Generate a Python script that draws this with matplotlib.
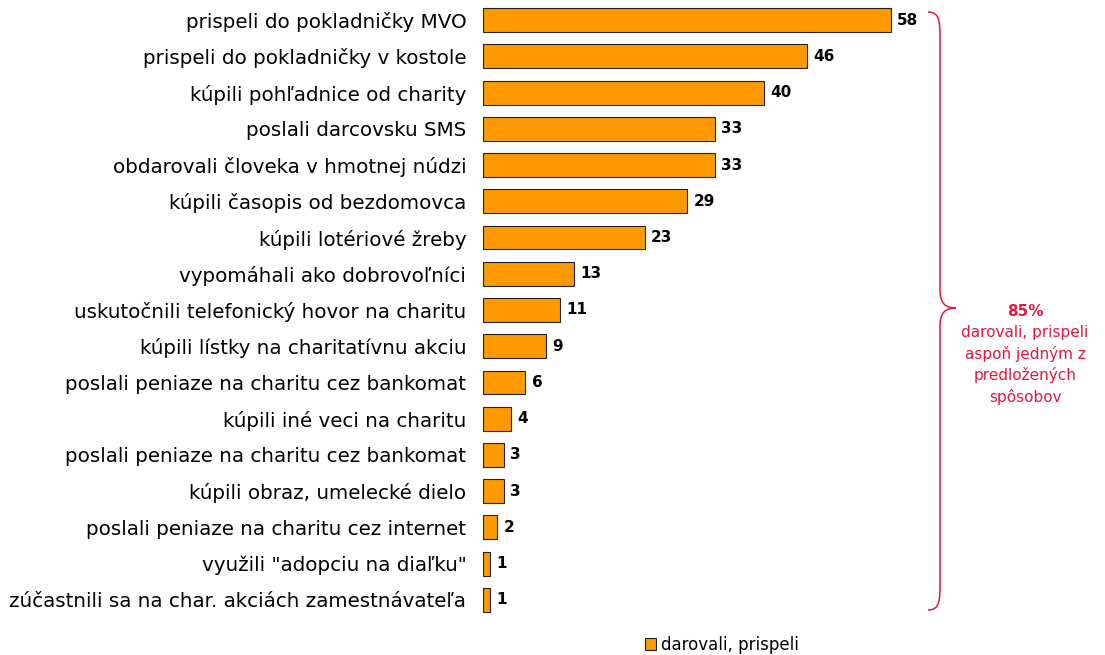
import numpy as np
import matplotlib.pyplot as plt
from matplotlib.path import Path
from matplotlib.patches import PathPatch

plt.rcParams['font.family'] = ['DejaVu Sans']

categories = [
    'prispeli do pokladničky MVO',
    'prispeli do pokladničky v kostole',
    'kúpili pohľadnice od charity',
    'poslali darcovsku SMS',
    'obdarovali človeka v hmotnej núdzi',
    'kúpili časopis od bezdomovca',
    'kúpili lotériové žreby',
    'vypomáhali ako dobrovoľníci',
    'uskutočnili telefonický hovor na charitu',
    'kúpili lístky na charitatívnu akciu',
    'poslali peniaze na charitu cez bankomat',
    'kúpili iné veci na charitu',
    'poslali peniaze na charitu cez bankomat',
    'kúpili obraz, umelecké dielo',
    'poslali peniaze na charitu cez internet',
    'využili "adopciu na diaľku"',
    'zúčastnili sa na char. akciách zamestnávateľa',
]
values = [58, 46, 40, 33, 33, 29, 23, 13, 11, 9, 6, 4, 3, 3, 2, 1, 1]
series_name = 'darovali, prispeli'
total_pct = 85
note = 'darovali, prispeli\naspoň jedným z\npredložených\nspôsobov'

fig = plt.figure(figsize=(11.05, 6.55), dpi=100)
ax = fig.add_axes([483 / 1105, 1 - 618 / 655, 422 / 1105, 616 / 655])

y = np.arange(len(values))
bars = ax.barh(y, values, height=0.66, color='#FF9900', edgecolor='#222222',
               linewidth=0.8, label=series_name)
ax.set_ylim(len(values) - 0.5, -0.5)
ax.set_xlim(0, 60)
ax.set_yticks(y)
ax.set_yticklabels(categories, fontsize=14.3)
ax.tick_params(axis='y', length=0, pad=12)
ax.set_xticks([])
for s in ax.spines.values():
    s.set_visible(False)

for yi, v in zip(y, values):
    ax.text(v + 0.9, yi, str(v), va='center', ha='left', fontsize=11,
            fontweight='bold')

# brace + note in pixel space overlay
ov = fig.add_axes([0, 0, 1, 1], facecolor='none')
ov.set_xlim(0, 1105)
ov.set_ylim(655, 0)
ov.axis('off')
red = '#E3173F'
verts = [(928, 12), (940, 12), (940, 22), (940, 40),
         (940, 290),
         (940, 303), (945, 308), (956, 308),
         (945, 308), (940, 313), (940, 326),
         (940, 582),
         (940, 600), (940, 610), (928, 610)]
codes = [Path.MOVETO, Path.CURVE4, Path.CURVE4, Path.CURVE4,
         Path.LINETO,
         Path.CURVE4, Path.CURVE4, Path.CURVE4,
         Path.CURVE4, Path.CURVE4, Path.CURVE4,
         Path.LINETO,
         Path.CURVE4, Path.CURVE4, Path.CURVE4]
ov.add_patch(PathPatch(Path(verts, codes), facecolor='none', edgecolor=red,
                       linewidth=1.1))
ov.text(1025, 312, f'{total_pct}%', color=red, fontsize=11, fontweight='bold',
        ha='center', va='center')
ov.text(1025, 325, note, color=red, fontsize=11, ha='center', va='top',
        linespacing=1.43)

fig.legend(handles=[bars], labels=[series_name], loc='center',
           bbox_to_anchor=(722 / 1105, 1 - 645 / 655), frameon=False,
           fontsize=12, handlelength=0.7, handleheight=0.7, handletextpad=0.3)

fig.savefig('out.png', dpi=100)
